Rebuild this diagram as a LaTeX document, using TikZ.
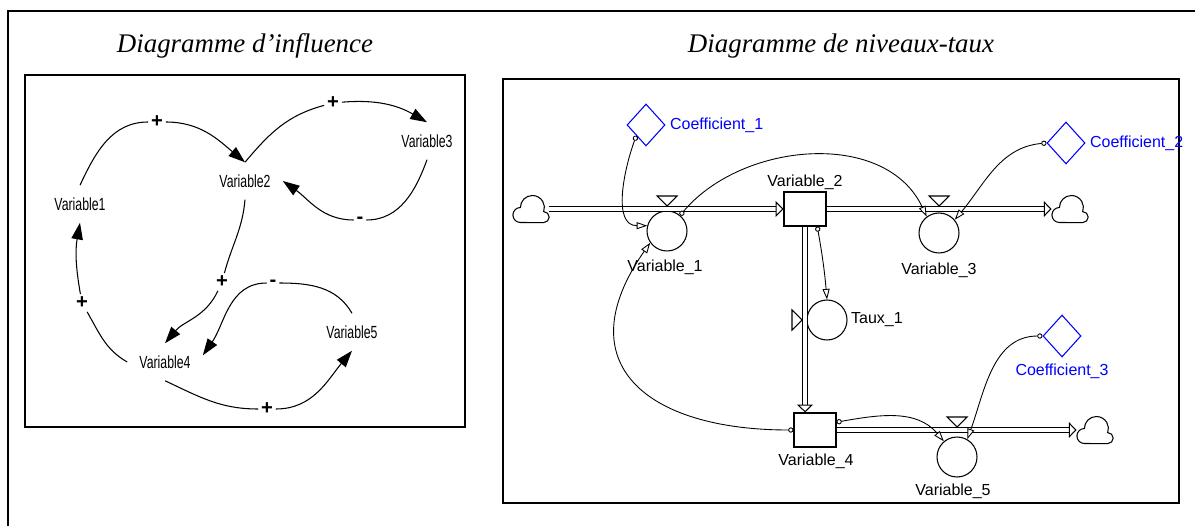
\documentclass[tikz,border=0pt]{standalone}
\usepackage{fontspec}
\setmainfont{Liberation Serif}
\setsansfont{Liberation Sans}
\newfontfamily\narrowsans[FakeStretch=0.7]{Liberation Sans}
\usetikzlibrary{arrows.meta,shapes.geometric}
\definecolor{coefblue}{RGB}{0,0,255}
\tikzset{
  title/.style={font=\fontsize{15.3}{18}\selectfont\itshape},
  frame/.style={draw=black,line width=0.7pt},
  varname/.style={font=\narrowsans\fontsize{10}{11}\selectfont,inner sep=1pt,outer sep=6pt},
  sign/.style={font=\sffamily\bfseries\fontsize{11.5}{12}\selectfont,inner sep=1.5pt},
  infl/.style={draw=black,line width=0.6pt,-{Triangle[length=9.5pt,width=6.5pt]}},
  varlabel/.style={font=\sffamily\fontsize{9.1}{10}\selectfont,inner sep=1pt},
  coeflabel/.style={varlabel,text=coefblue},
  coef/.style={diamond,draw=coefblue,line width=0.6pt,minimum width=0.76cm,minimum height=0.84cm,inner sep=0pt},
  conv/.style={circle,draw=black,line width=0.6pt,minimum size=0.8cm,inner sep=0pt},
  stock/.style={rectangle,draw=black,line width=0.6pt,fill=white,minimum width=0.84cm,minimum height=0.68cm,inner sep=0pt},
  sky/.style={minimum width=0.72cm,minimum height=0.54cm,inner sep=0pt},
  skyline/.style={draw=black,line width=0.6pt},
  pipe/.style={draw=black,line width=0.6pt,double,double distance=1.9pt,-{Triangle[length=4.5pt,width=9pt,fill=white]}},
  valve/.style={draw=black,line width=0.6pt,fill=white},
  link/.style={draw=black,line width=0.5pt,{Circle[length=3pt,fill=white]}-{Triangle[length=6pt,width=4pt,fill=white]}}
}
\newcommand\drawsky[1]{\draw[skyline] (#1.center) ++(-10.6,13.5) arc[start angle=270,end angle=90,radius=0.15cm] arc[start angle=180,end angle=-20,radius=0.24cm] arc[start angle=90,end angle=-90,radius=0.11cm] -- cycle;}
\begin{document}
\begin{tikzpicture}[x=0.02cm,y=-0.02cm]
  \useasboundingbox (0,0) rectangle (1195,526);
  \draw[line width=1.4pt] (8,540) -- (8,11) -- (1210,11);
  \node[title] (h1) at (245,46) {Diagramme d’influence};
  \node[title] (h2) at (841,46) {Diagramme de niveaux-taux};
  \draw[frame] (25,75) rectangle (465,427);
  \draw[frame] (503,79) rectangle (1179,503);

  \begin{scope}[every node/.style={varname}]
    \node (a1) at ( 80,204) {Variable1};
    \node (a2) at (245,181) {Variable2};
    \node (a3) at (427,141) {Variable3};
    \node (a4) at (165,362) {Variable4};
    \node (a5) at (352,332) {Variable5};
  \end{scope}
  \begin{scope}[every node/.style={sign}]
    \node (p1) at (157,122) {+};
    \node (p2) at (333,103) {+};
    \node (p3) at (360,220) {-};
    \node (p4) at (222,282) {+};
    \node (p5) at (273,283) {-};
    \node (p6) at (267,409) {+};
    \node (p7) at ( 82,303) {+};
  \end{scope}
  \draw[infl] (a1.north) to[out=65,in=180] (p1) to[out=0,in=140] (a2.north);
  \draw[infl] (a2.north) to[out=50,in=195] (p2) to[out=5,in=150] (a3.north);
  \draw[infl] (a3.south) to[out=-110,in=0] (p3) to[out=180,in=-35] (a2.east);
  \draw[infl] (a2.south) to[out=-95,in=75] (p4) to[out=-115,in=50] (a4.north);
  \draw[infl] (a5.north) to[out=120,in=0] (p5) to[out=180,in=55] (a4.10);
  \draw[infl] (a4.south) to[out=-25,in=180] (p6) to[out=0,in=-130] (a5.south);
  \draw[infl] (a4.west) to[out=150,in=-60] (p7) to[out=100,in=-100] (a1.south);

  \node[sky] (c1) at (531,209) {};
  \node[sky] (c2) at (1070,209) {};
  \node[sky] (c3) at (1095,430) {};
  \node[stock] (s2) at (805,209) {};
  \node[stock] (s4) at (815,430) {};
  \node[conv] (r1) at (667,231) {};
  \node[conv] (r3) at (939,233) {};
  \node[conv] (t1) at (827,320) {};
  \node[conv] (r5) at (957,457) {};
  \node[coef] (k1) at (646,125) {};
  \node[coef] (k2) at (1066,143) {};
  \node[coef] (k3) at (1062,336) {};
  \node[varlabel] (s2t) at (805,182) {Variable\_2};
  \node[varlabel] (r1t) at (665,267) {Variable\_1};
  \node[varlabel] (r3t) at (939,270) {Variable\_3};
  \node[varlabel,anchor=west] (t1t) at (849,320) {Taux\_1};
  \node[varlabel] (s4t) at (816,461) {Variable\_4};
  \node[varlabel] (r5t) at (953,491) {Variable\_5};
  \node[coeflabel,anchor=west] (k1t) at (668,125) {Coefficient\_1};
  \node[coeflabel,anchor=west] (k2t) at (1088,143) {Coefficient\_2};
  \node[coeflabel] (k3t) at (1062,371) {Coefficient\_3};
  \drawsky{c1}
  \drawsky{c2}
  \drawsky{c3}

  \draw[pipe] (c1) -- (s2);
  \draw[pipe] (s2) -- (c2);
  \draw[pipe] (s2) -- (s2 |- s4.north);
  \draw[pipe] (s4) -- (c3);
  \draw[valve] (r1 |- s2) ++(0,-3) -- ++(-10,-10) -- ++(20,0) -- cycle;
  \draw[valve] (r3 |- s2) ++(0,-3) -- ++(-10,-10) -- ++(20,0) -- cycle;
  \draw[valve] (r5 |- s4) ++(0,-3) -- ++(-10,-10) -- ++(20,0) -- cycle;
  \draw[valve] (t1 -| s2) ++(-3,0) -- ++(-10,-10) -- ++(0,20) -- cycle;

  \draw[link] (k1.south west) to[out=-110,in=180] (r1.165);
  \draw[link] (r1.50) to[out=50,in=115] (r3.127);
  \draw[link] (k2.west) to[out=185,in=50] (r3.40);
  \draw[link] (s2.-55) to[out=-80,in=95] (t1.north);
  \draw[link] (s4.west) to[out=180,in=-125,looseness=1.6] (r1.215);
  \draw[link] (s4.20) to[out=10,in=130] (r5.130);
  \draw[link] (k3.west) to[out=180,in=70] (r5.60);
\end{tikzpicture}
\end{document}
